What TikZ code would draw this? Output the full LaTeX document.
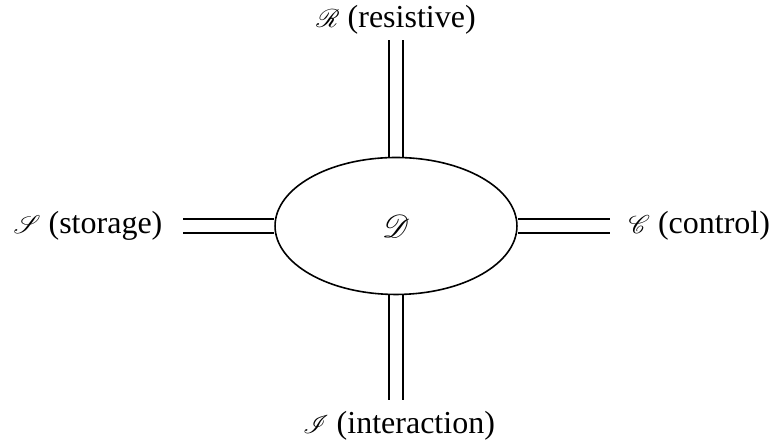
\documentclass[tikz,border=0pt]{standalone}
\usepackage{fontspec}
\setmainfont{Liberation Serif}
\usepackage{amsmath}
\usepackage{mathrsfs}
\usepackage{tikz}
\usetikzlibrary{positioning,shapes.geometric,backgrounds}

% small script letter in front of a label
\newcommand{\scrlab}[1]{{\footnotesize$\mathscr{#1}$}}

\begin{document}
\begin{tikzpicture}[x=0.3125pt, y=-0.3125pt, every node/.style={inner sep=0pt}]
    \useasboundingbox (0,0) rectangle (772,446);

    % nodes
    \node (sys) [ellipse, draw, line width=0.5pt, minimum width=75.6pt, minimum height=42.8pt] at (396,226) {$\mathscr{D}$};

    \node (res) at (396,20) {\scrlab{R} (resistive)};
    \node (sto) [anchor=east] at (163,226) {\scrlab{S} (storage)};
    \node (con) [anchor=west] at (628,226) {\scrlab{C} (control)};
    \node (int) at (399,426) {\scrlab{I} (interaction)};

    % free ends of the links
    \coordinate (rend) at (396,40);
    \coordinate (send) at (183,226);
    \coordinate (cend) at (610,226);
    \coordinate (iend) at (396,400);

    % double links
    \begin{scope}[on background layer, line width=0.4pt, double distance=4pt]
        \draw[double] (sys.north) -- (rend);
        \draw[double] (sys.west) -- (send);
        \draw[double] (sys.east) -- (cend);
        \draw[double] (sys.south) -- (iend);
    \end{scope}
\end{tikzpicture}
\end{document}
